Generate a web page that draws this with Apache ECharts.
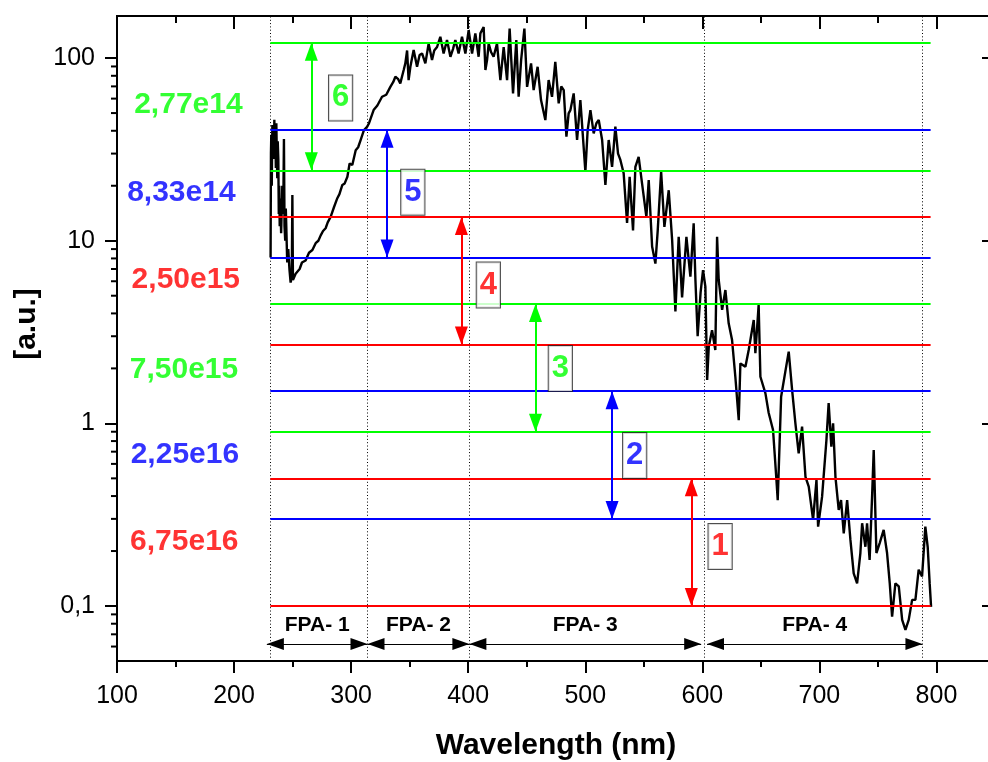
<!DOCTYPE html>
<html>
<head>
<meta charset="utf-8">
<title>Spectrum and FPA bands</title>
<script src="https://cdn.jsdelivr.net/npm/echarts@6/dist/echarts.min.js"></script>
<style>
html, body { margin: 0; padding: 0; background: #fff; }
#chart { width: 988px; height: 762px; }
</style>
</head>
<body>
<div id="chart"></div>
<script>
// spectrum (nm, a.u.)
const wavelength = [
  231.2, 231.5, 231.8, 232.2, 232.7, 233.1, 233.5, 234, 234.4, 234.8,
  235.2, 235.7, 236.1, 236.5, 236.9, 237.3, 237.8, 238.2, 238.6, 239,
  239.5, 240.2, 241.2, 242, 242.6, 243.1, 243.7, 244.2, 244.6, 245.4,
  246.3, 247.3, 248.3, 249.3, 249.8, 250.3, 250.6,
  252.6, 256, 258, 261.1, 264, 266.9, 269.7, 272, 274, 276,
  278.2, 280, 282.5, 285.4, 288.2, 290, 292.5, 294.5, 296.8, 298.7,
  301, 303.9, 306, 308.1, 311, 313.6, 315.3, 319.2, 322.4, 326.4,
  330, 333.5, 336, 337.8, 340, 342, 344.9, 346.3, 347.8, 349.1,
  350.6, 353.4, 356.3, 358.5, 360.6, 363.4, 366.2, 369.1, 371, 373.4,
  376.2, 379, 381.9, 384.8, 387, 389, 391.8, 394.7, 397.6, 400.4,
  403.3, 406.1, 408.9, 410.4, 413.2, 414.7, 416.1, 417.5, 419.5, 421.7,
  424.6, 427.5, 430.3, 433.2, 435.4, 438.3, 441.1, 443.1, 445.2, 448,
  450.3, 453.7, 455.9, 459.3, 462.2, 465.9, 468.7, 471.6, 474.4, 477.3,
  479.5, 481.6, 483.9, 485.8, 487.3, 490.1, 493, 495.8, 500.1, 502,
  504.4, 507.2, 509.5, 511.5, 514.4, 517.2, 520, 522.9, 525.7, 528,
  530, 532.8, 535.7, 537.9, 540.8, 542.8, 545.6, 548.5, 552.2, 554.2,
  557.1, 559.9, 561.9, 564.8, 567.6, 571.3, 574.2, 577, 579.8, 582.7,
  586.4, 589.8, 592.6, 594.1, 596, 598.5, 600.6, 602.6, 604.1, 605.5,
  608.3, 611.1, 612.6, 614, 616.9, 619.7, 622.5, 625.4, 628.2, 631.1,
  632.5, 636.8, 639.6, 643.9, 645.3, 648.1, 649.6, 653.9, 656.7, 660.4,
  663.3, 664.4, 667.3, 670.9, 673.8, 676.7, 679.5, 682.3, 685.2, 688.1,
  690.9, 694.6, 697.5, 698.9, 702.3, 706, 707.9, 710.2, 711.7, 713.7,
  716.5, 718.5, 720.8, 723.7, 726.5, 729.3, 732.2, 735, 736.5, 739.3,
  740.7, 742.9, 745, 746.4, 748.7, 751.5, 754.9, 757.8, 760.1, 762.1,
  764.9, 767.8, 770.7, 773.5, 776.3, 779.2, 782, 784.8, 787.7, 790.5,
  792.5, 794.2, 795.4
];
const intensity = [
  8.1, 30, 38, 20, 43, 32, 40, 28, 46, 30,
  40, 25, 44, 30, 22, 35, 28, 14, 20, 12,
  17, 11, 20, 14, 36, 12, 10, 15, 12, 7.6,
  9, 7, 5.9, 6.3, 17.8, 6.1, 6.0,
  6.6, 7.0, 7.6, 7.8, 8.6, 8.9, 9.7, 10.0, 10.7, 11.3,
  11.7, 12.6, 13.5, 15.3, 17.1, 18.0, 20.2, 20.6, 22.4, 26.5,
  26.0, 31.3, 32.5, 35.6, 40.4, 42, 44, 51.9, 55, 61.4,
  63, 69.6, 74, 79, 77, 72.7, 86, 93.6, 110, 75.8,
  89.6, 110.6, 89.6, 104, 106, 93.6, 120, 97.5, 110, 115,
  130.8, 106, 125.6, 101.7, 112, 125.6, 106, 130.8, 106, 142,
  106, 136.5, 101.7, 136.5, 148, 86, 97.5, 120, 108, 101.7,
  120, 75.8, 115, 75.8, 145, 64.1, 125.6, 61.4, 97.5, 145,
  69.6, 93.6, 66.8, 89.6, 58.9, 45.8, 75.8, 61.4, 95.4, 56.5,
  70, 66.8, 37.1, 49.8, 51.9, 64.1, 35.6, 58.9, 23.9, 40,
  51.9, 38.7, 44, 45.8, 35.6, 20.2, 35.6, 25.4, 42.1, 30,
  27.7, 23.4, 12.5, 22.4, 11.4, 25.4, 28.8, 20.6, 13.5, 21.5,
  9.3, 7.5, 11.4, 23.9, 11.9, 18.9, 10.1, 4.1, 10.5, 4.9,
  10.5, 6.35, 12.45, 6.1, 3.0, 5.2, 6.9, 5.6, 1.73, 2.63,
  3.24, 2.52, 10.5, 6.1, 4.18, 5.37, 3.53, 2.86, 1.8, 1.04,
  2.13, 2.04, 2.52, 3.68, 2.42, 4.45, 1.8, 1.46, 1.14, 0.92,
  0.49, 0.38, 1.4, 1.92, 2.47, 1.52, 1.0, 0.686, 0.96, 0.51,
  0.45, 0.296, 0.49, 0.272, 0.397, 0.81, 1.29, 0.746, 1.0, 0.51,
  0.336, 0.38, 0.25, 0.38, 0.23, 0.151, 0.133, 0.195, 0.284, 0.211,
  0.284, 0.179, 0.397, 0.715, 0.195, 0.221, 0.261, 0.195, 0.133, 0.0875,
  0.133, 0.128, 0.084, 0.074, 0.084, 0.108, 0.108, 0.158, 0.145, 0.272,
  0.211, 0.133, 0.099
];

const RED = '#ff0000', BLUE = '#0000ff', GREEN = '#00ff00';
const FONT = 'Liberation Sans, Arial, sans-serif';

// horizontal levels
const levelValues = [0.1, 0.3, 0.5, 0.9, 1.5, 2.7, 4.5, 8.1, 13.5, 24.3, 40.5, 121.5];
const levelColors = [RED, BLUE, RED, GREEN, BLUE, RED, GREEN, BLUE, RED, GREEN, BLUE, GREEN];
const levelFrom = 231;
const levelTo = 795;

// FPA bands
const fpaEdges = [231, 314, 401, 602, 788];
const fpaNames = ['FPA- 1', 'FPA- 2', 'FPA- 3', 'FPA- 4'];
const fpaFrom = [228, 314, 401, 604];
const fpaTo = [314, 401, 599, 788];
const fpaLevel = 0.062;

// numbered steps (double arrows)
const stepNames = ['1', '2', '3', '4', '5', '6'];
const stepColors = [RED, BLUE, GREEN, RED, BLUE, GREEN];
const stepX = [590.6, 522.9, 457.5, 394.2, 330.7, 266];
const stepLow = [0.1, 0.3, 0.9, 2.7, 8.1, 24.3];
const stepHigh = [0.5, 1.5, 4.5, 13.5, 40.5, 121.5];
const stepBoxX = [615.2, 542.2, 478.7, 417.2, 352.7, 291];
const stepBoxY = [0.212, 0.667, 2.0, 5.72, 18.4, 60.5];

// densities written at the left
const densityText = ['2,77e14', '8,33e14', '2,50e15', '7,50e15', '2,25e16', '6,75e16'];
const densityColors = [GREEN, BLUE, RED, GREEN, BLUE, RED];
const densityX = [161, 155, 158.8, 157.2, 158, 157.5];
const densityY = [55.3, 18.2, 6.1, 1.96, 0.671, 0.225];

// minor ticks of the log axis
const minorY = [0.06, 0.07, 0.08, 0.09, 0.2, 0.3, 0.4, 0.5, 0.6, 0.7, 0.8, 0.9,
  2, 3, 4, 5, 6, 7, 8, 9, 20, 30, 40, 50, 60, 70, 80, 90];

const xMin = 100, xMax = 850, yMin = 0.05, yMax = 170;

const chart = echarts.init(document.getElementById('chart'));

const spine = { show: true, onZero: false, lineStyle: { color: '#000', width: 2 } };
function xAxisDef(pos, interval, len, inside, labels) {
  return {
    type: 'value', position: pos, min: xMin, max: xMax, interval: interval,
    axisLine: spine,
    axisTick: { show: true, inside: inside, length: len, lineStyle: { color: '#000', width: 2 } },
    axisLabel: { show: labels, showMaxLabel: false, margin: 23, fontSize: 25, color: '#000', fontFamily: FONT },
    splitLine: { show: false }
  };
}

const arrowEnd = { symbol: 'triangle', symbolSize: [13, 18], symbolOffset: [0, 9] };
const fpaEnd = { symbol: 'triangle', symbolSize: [12, 17], symbolOffset: [0, 8.5] };

chart.setOption({
  animation: false,
  grid: { left: 117, top: 16, width: 878, height: 645, outerBoundsMode: 'none', containLabel: false },
  xAxis: [
    Object.assign(xAxisDef('bottom', 100, 12, false, true), {
      name: 'Wavelength (nm)', nameLocation: 'middle', nameGap: 70,
      nameTextStyle: { fontSize: 30, fontWeight: 'bold', color: '#000', fontFamily: FONT }
    }),
    xAxisDef('bottom', 50, 6, false, false),
    xAxisDef('top', 100, 13, true, false),
    xAxisDef('top', 50, 7, true, false)
  ],
  yAxis: [
    {
      type: 'log', logBase: 10, position: 'left', min: yMin, max: yMax,
      axisLine: spine,
      axisTick: { show: true, length: 12, lineStyle: { color: '#000', width: 2 } },
      axisLabel: {
        showMinLabel: false, showMaxLabel: false, margin: 22, fontSize: 25, color: '#000', fontFamily: FONT,
        formatter: v => String(v).replace('.', ',')
      },
      splitLine: { show: false },
      name: '[a.u.]', nameLocation: 'middle', nameGap: 75, nameRotate: 90,
      nameTextStyle: { fontSize: 30, fontWeight: 'bold', color: '#000', fontFamily: FONT, padding: [0, 0, 0, 29] }
    },
    {
      type: 'log', logBase: 10, position: 'right', min: yMin, max: yMax,
      axisLine: spine,
      axisTick: { show: true, inside: true, length: 13, lineStyle: { color: '#000', width: 2 } },
      axisLabel: { show: false },
      splitLine: { show: false }
    }
  ],
  series: [
    {
      // minor ticks 2..9 of every decade
      type: 'custom', silent: true, clip: false, z: 5,
      data: minorY.map(v => [xMin, v]),
      encode: { x: 0, y: 1 },
      renderItem: function (params, api) {
        const y = api.coord([api.value(0), api.value(1)])[1];
        const cs = params.coordSys;
        const st = { stroke: '#000', lineWidth: 2 };
        return {
          type: 'group',
          children: [
            { type: 'line', shape: { x1: cs.x - 6, y1: y, x2: cs.x, y2: y }, style: st },
            { type: 'line', shape: { x1: cs.x + cs.width - 7, y1: y, x2: cs.x + cs.width, y2: y }, style: st }
          ]
        };
      }
    },
    {
      // dotted FPA boundaries
      type: 'line', data: [], silent: true, z: 1,
      markLine: {
        silent: true, symbol: 'none', label: { show: false },
        lineStyle: { color: '#000', width: 1, type: [1, 2.3] },
        data: fpaEdges.map(x => ({ xAxis: x }))
      }
    },
    {
      name: 'spectrum', type: 'line', showSymbol: false, silent: true, z: 2,
      lineStyle: { color: '#000', width: 2.4 },
      data: wavelength.map((w, i) => [w, intensity[i]])
    },
    {
      // horizontal levels
      type: 'line', data: [], silent: true, z: 3,
      markLine: {
        silent: true, symbol: 'none', label: { show: false },
        lineStyle: { width: 2, type: 'solid' },
        data: levelValues.map((v, i) => [
          { coord: [levelFrom, v], lineStyle: { color: levelColors[i] } },
          { coord: [levelTo, v] }
        ])
      }
    },
    {
      // numbered double arrows
      type: 'line', data: [], silent: true, z: 4,
      markLine: {
        silent: true, label: { show: false },
        lineStyle: { width: 2, type: 'solid' },
        data: stepNames.map((n, i) => [
          Object.assign({ coord: [stepX[i], stepLow[i]], lineStyle: { color: stepColors[i] } }, arrowEnd),
          Object.assign({ coord: [stepX[i], stepHigh[i]] }, arrowEnd)
        ])
      }
    },
    {
      // FPA band arrows
      type: 'line', data: [], silent: true, z: 4,
      markLine: {
        silent: true,
        lineStyle: { width: 1.2, type: 'solid', color: '#000' },
        label: {
          show: true, position: 'insideMiddleTop', distance: 8, formatter: '{b}',
          fontSize: 21, fontWeight: 'bold', color: '#000', fontFamily: FONT
        },
        data: fpaNames.map((n, i) => [
          Object.assign({ coord: [fpaFrom[i], fpaLevel], name: n }, fpaEnd),
          Object.assign({ coord: [fpaTo[i], fpaLevel] }, fpaEnd)
        ])
      }
    },
    {
      // step numbers in boxes
      type: 'scatter', silent: true, z: 6, symbolSize: 1,
      itemStyle: { color: 'rgba(0,0,0,0)' },
      label: {
        show: true, position: 'inside', fontSize: 31, fontWeight: 'bold', fontFamily: FONT,
        backgroundColor: '#fff', borderColor: '#222', borderWidth: 1, padding: [8, 3, 6, 3]
      },
      data: stepNames.map((n, i) => ({
        value: [stepBoxX[i], stepBoxY[i]],
        label: { formatter: n, color: stepColors[i] }
      }))
    },
    {
      // density labels
      type: 'scatter', silent: true, z: 6, symbolSize: 1,
      itemStyle: { color: 'rgba(0,0,0,0)' },
      label: { show: true, position: 'inside', fontSize: 30, fontWeight: 'bold', fontFamily: FONT },
      data: densityText.map((t, i) => ({
        value: [densityX[i], densityY[i]],
        label: { formatter: t, color: densityColors[i] }
      }))
    }
  ]
});
</script>
</body>
</html>
